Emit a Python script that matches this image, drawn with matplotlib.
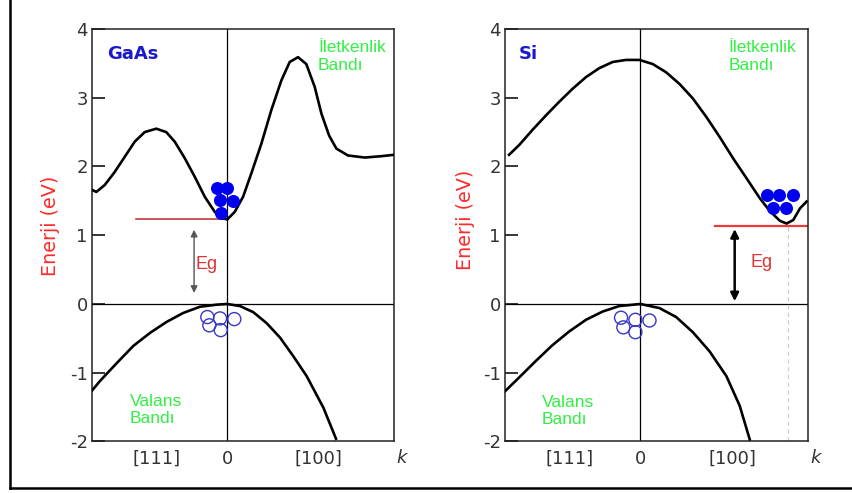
import matplotlib.pyplot as plt
from matplotlib.lines import Line2D

gaas_cb_k = [-1.0, -0.968, -0.906, -0.832, -0.758, -0.684, -0.610, -0.524, -0.450, -0.387,
             -0.313, -0.239, -0.165, -0.091, -0.042, 0.002, 0.057, 0.119, 0.180, 0.254,
             0.328, 0.402, 0.464, 0.526, 0.587, 0.649, 0.699, 0.756, 0.810, 0.896,
             1.020, 1.143, 1.237]
gaas_cb_e = [1.66, 1.63, 1.73, 1.92, 2.14, 2.36, 2.50, 2.55, 2.50, 2.36,
             2.12, 1.85, 1.56, 1.34, 1.25, 1.23, 1.34, 1.56, 1.90, 2.33,
             2.82, 3.25, 3.52, 3.59, 3.49, 3.16, 2.77, 2.45, 2.26, 2.16,
             2.13, 2.15, 2.17]
gaas_vb_k = [-1.0, -0.941, -0.817, -0.694, -0.570, -0.447, -0.324, -0.200, -0.076, 0.0,
             0.096, 0.195, 0.294, 0.393, 0.491, 0.590, 0.714, 0.807]
gaas_vb_e = [-1.26, -1.12, -0.86, -0.61, -0.42, -0.26, -0.13, -0.04, -0.01, 0.0,
             -0.03, -0.12, -0.28, -0.49, -0.76, -1.05, -1.51, -1.96]

si_cb_k = [-0.970, -0.896, -0.798, -0.699, -0.600, -0.501, -0.402, -0.304, -0.205, -0.106,
           -0.007, 0.091, 0.190, 0.289, 0.387, 0.487, 0.585, 0.684, 0.783, 0.881,
           0.956, 1.030, 1.079, 1.128, 1.178, 1.227]
si_cb_e = [2.17, 2.31, 2.53, 2.74, 2.94, 3.13, 3.30, 3.43, 3.52, 3.55,
           3.55, 3.49, 3.37, 3.20, 2.99, 2.72, 2.43, 2.12, 1.83, 1.54,
           1.35, 1.21, 1.17, 1.22, 1.39, 1.49]
si_vb_k = [-1.0, -0.896, -0.773, -0.650, -0.526, -0.402, -0.279, -0.156, 0.0, 0.141,
           0.264, 0.387, 0.511, 0.635, 0.733, 0.807]
si_vb_e = [-1.27, -1.07, -0.83, -0.60, -0.40, -0.23, -0.11, -0.03, 0.0, -0.06,
           -0.19, -0.41, -0.69, -1.05, -1.48, -1.97]

# electrons (filled) and holes (open)
gaas_el_k = [-0.076, 0.002, -0.052, 0.042, -0.047]
gaas_el_e = [1.68, 1.68, 1.51, 1.50, 1.33]
gaas_h_k = [-0.146, -0.052, 0.054, -0.131, -0.047]
gaas_h_e = [-0.19, -0.21, -0.22, -0.31, -0.38]
si_el_k = [0.936, 1.022, 1.124, 0.980, 1.074]
si_el_e = [1.59, 1.59, 1.59, 1.40, 1.40]
si_h_k = [-0.143, -0.037, 0.067, -0.126, -0.037]
si_h_e = [-0.20, -0.23, -0.24, -0.34, -0.41]

gaas_eg = 1.23
si_eg = 1.13

tick_pos = [-0.52, 0.0, 0.68]
tick_labels = ['[111]', '0', '[100]']

fig = plt.figure(figsize=(8.52, 4.93), dpi=100)
fig.patch.set_facecolor('white')

# outer frame on the left and bottom
fig.add_artist(Line2D([0.0115, 0.0115], [0.01, 1.0], color='black', lw=1.8, transform=fig.transFigure))
fig.add_artist(Line2D([0.0115, 1.0], [0.01, 0.01], color='black', lw=1.8, transform=fig.transFigure))

ax1 = fig.add_axes([0.108, 0.1045, 0.3545, 0.8367])
ax2 = fig.add_axes([0.5927, 0.1045, 0.3556, 0.8367])

green = '#33ee44'
for ax in (ax1, ax2):
    ax.set_xlim(-1.0, 1.237)
    ax.set_ylim(-2, 4)
    ax.set_yticks([-2, -1, 0, 1, 2, 3, 4])
    ax.set_yticklabels(['-2', '-1', '0', '1', '2', '3', '4'])
    ax.tick_params(axis='y', direction='in', length=9.5, width=1.1, labelsize=13,
                   labelcolor='#333333', pad=3)
    ax.set_xticks(tick_pos)
    ax.set_xticklabels(tick_labels)
    ax.tick_params(axis='x', length=0, labelsize=13, labelcolor='#333333', pad=6)
    for s in ax.spines.values():
        s.set_linewidth(1.1)
        s.set_color('#222222')
    ax.axhline(0, color='black', lw=0.9, zorder=1)
    ax.axvline(0, color='black', lw=0.9, zorder=1)
    ax.set_ylabel('Enerji (eV)', color='#ff2a2a', fontsize=13.8)
    ax.text(1.29, -0.041, 'k', transform=ax.get_xaxis_transform(), fontsize=13,
            style='italic', color='#333333', ha='center', va='center', clip_on=False)

ax1.yaxis.set_label_coords(-0.106, 0.522)
ax2.yaxis.set_label_coords(-0.099, 0.537)

# GaAs panel
ax1.plot(gaas_cb_k, gaas_cb_e, color='black', lw=1.9, zorder=3)
ax1.plot(gaas_vb_k, gaas_vb_e, color='black', lw=1.9, zorder=3)
ax1.plot([-0.674, 0.0], [gaas_eg, gaas_eg], color='#b8282c', lw=1.1, zorder=2)
ax1.annotate('', xy=(-0.244, 0.12), xytext=(-0.244, 1.12),
             arrowprops=dict(arrowstyle='<|-|>', color='#555555', lw=1.0,
                             mutation_scale=10))
ax1.text(-0.23, 0.57, 'Eg', color='#dd3333', fontsize=13, ha='left', va='center',
         family='Liberation Sans')
ax1.scatter(gaas_el_k, gaas_el_e, s=88, color='#0000ee', zorder=4, linewidths=0)
ax1.scatter(gaas_h_k, gaas_h_e, s=88, facecolors='none', edgecolors='#3838c8',
            linewidths=1.0, zorder=4)
ax1.text(-0.89, 3.64, 'GaAs', color='#1a1acc', fontsize=13, fontweight='bold',
         ha='left', va='center')
ax1.text(0.674, 3.60, 'İletkenlik\nBandı', color=green, fontsize=12.5, ha='left',
         va='center', family='Liberation Sans')
ax1.text(-0.719, -1.54, 'Valans\nBandı', color=green, fontsize=12.5, ha='left',
         va='center', family='Liberation Sans')

# Si panel
ax2.plot(si_cb_k, si_cb_e, color='black', lw=1.9, zorder=3)
ax2.plot(si_vb_k, si_vb_e, color='black', lw=1.9, zorder=3)
ax2.plot([0.548, 1.237], [si_eg, si_eg], color='#ee3a3a', lw=1.6, zorder=2)
ax2.plot([1.087, 1.087], [-2, si_eg], color='#cccccc', lw=0.8, ls=(0, (4, 3)), zorder=1)
ax2.annotate('', xy=(0.696, 0.0), xytext=(0.696, si_eg),
             arrowprops=dict(arrowstyle='<|-|>', color='black', lw=1.8,
                             mutation_scale=12))
ax2.text(0.815, 0.61, 'Eg', color='#dd3333', fontsize=13, ha='left', va='center',
         family='Liberation Sans')
ax2.scatter(si_el_k, si_el_e, s=88, color='#0000ee', zorder=4, linewidths=0)
ax2.scatter(si_h_k, si_h_e, s=88, facecolors='none', edgecolors='#3838c8',
            linewidths=1.0, zorder=4)
ax2.text(-0.896, 3.64, 'Si', color='#1a1acc', fontsize=13, fontweight='bold',
         ha='left', va='center')
ax2.text(0.652, 3.60, 'İletkenlik\nBandı', color=green, fontsize=12.5, ha='left',
         va='center', family='Liberation Sans')
ax2.text(-0.726, -1.56, 'Valans\nBandı', color=green, fontsize=12.5, ha='left',
         va='center', family='Liberation Sans')

fig.savefig('out.png', dpi=100, facecolor='white')
